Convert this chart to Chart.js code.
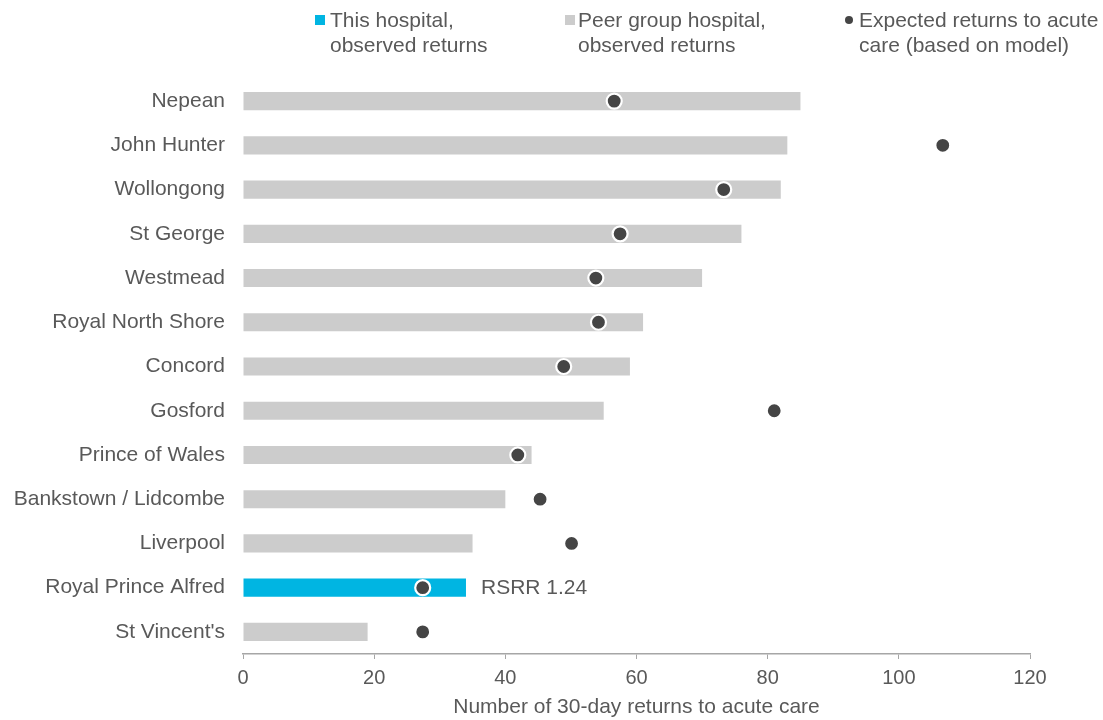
<!DOCTYPE html>
<html>
<head>
<meta charset="utf-8">
<script src="https://cdn.jsdelivr.net/npm/chart.js@4.4.1/dist/chart.umd.min.js"></script>
<style>
  html, body { margin: 0; padding: 0; background: #ffffff; }
  #wrap { position: relative; width: 1103px; height: 720px; font-family: "Liberation Sans", Arial, sans-serif; color: #595959; }
  canvas { position: absolute; left: 0; top: 0; }
  .lg { position: absolute; font-size: 21px; line-height: 25px; color: #595959; white-space: nowrap; }
  .sq { position: absolute; width: 10px; height: 10px; }
  .dot { position: absolute; width: 8px; height: 8px; border-radius: 50%; background: #454545; }
</style>
</head>
<body>
<div id="wrap">
  <canvas id="c" width="1103" height="720"></canvas>
  <div class="sq" style="left:315px; top:15px; background:#00b5e2;"></div>
  <div class="lg" style="left:330px; top:7px;">This hospital,<br>observed returns</div>
  <div class="sq" style="left:565px; top:15px; background:#cccccc;"></div>
  <div class="lg" style="left:578px; top:7px;">Peer group hospital,<br>observed returns</div>
  <div class="dot" style="left:845px; top:16px;"></div>
  <div class="lg" style="left:859px; top:7px;">Expected returns to acute<br>care (based on model)</div>
</div>
<script>
const hospitals = ["Nepean", "John Hunter", "Wollongong", "St George", "Westmead", "Royal North Shore", "Concord", "Gosford", "Prince of Wales", "Bankstown / Lidcombe", "Liverpool", "Royal Prince Alfred", "St Vincent's"];
const observedReturns = [85, 83, 82, 76, 70, 61, 59, 55, 44, 40, 35, 34, 19];
const expectedReturns = [56.6, 106.7, 73.3, 57.5, 53.8, 54.2, 48.9, 81.0, 41.9, 45.3, 50.1, 27.4, 27.4];
const thisHospital = "Royal Prince Alfred";
const rsrrLabel = "RSRR 1.24";
const xTicks = [0, 20, 40, 60, 80, 100, 120];
const xTitle = "Number of 30-day returns to acute care";

const BLUE = "#00b5e2", GREY = "#cccccc", DOT = "#454545", TEXT = "#595959";
const FONT = "'Liberation Sans', Arial, sans-serif";

const rsrrPlugin = {
  id: 'rsrr',
  afterDatasetsDraw(chart) {
    const idx = hospitals.indexOf(thisHospital);
    const meta = chart.getDatasetMeta(1);
    const bar = meta.data[idx];
    if (!bar) return;
    const ctx = chart.ctx;
    ctx.save();
    ctx.font = "21px " + FONT;
    ctx.fillStyle = TEXT;
    ctx.textAlign = 'left';
    ctx.textBaseline = 'middle';
    ctx.fillText(rsrrLabel, bar.x + 15, bar.y + 1);
    ctx.restore();
  }
};

new Chart(document.getElementById('c'), {
  data: {
    labels: hospitals,
    datasets: [
      {
        type: 'line',
        label: 'Expected returns to acute care (based on model)',
        data: expectedReturns,
        showLine: false,
        pointRadius: 7.5,
        pointHoverRadius: 7.5,
        pointBorderWidth: 2.2,
        pointBackgroundColor: DOT,
        pointBorderColor: '#ffffff',
        order: 0
      },
      {
        type: 'bar',
        label: 'Observed returns',
        data: observedReturns,
        backgroundColor: hospitals.map(h => h === thisHospital ? BLUE : GREY),
        barPercentage: 0.41,
        categoryPercentage: 1.0,
        order: 1
      }
    ]
  },
  options: {
    indexAxis: 'y',
    responsive: false,
    animation: false,
    layout: { padding: { top: 79, right: 73, left: 0, bottom: 0 } },
    plugins: { legend: { display: false }, tooltip: { enabled: false } },
    scales: {
      x: {
        type: 'linear',
        min: 0, max: 120,
        afterBuildTicks(scale) { scale.ticks = xTicks.map(v => ({ value: v })); },
        afterFit(scale) { scale.height = 66; },
        grid: { drawOnChartArea: false, drawTicks: true, tickLength: 5, color: '#a6a6a6' },
        border: { display: true, color: '#a6a6a6', width: 1.5 },
        ticks: { color: TEXT, font: { family: FONT, size: 20 }, padding: 7 },
        title: { display: true, text: xTitle, color: TEXT, font: { family: FONT, size: 21 }, padding: { top: 0, bottom: 0 } }
      },
      y: {
        type: 'category',
        afterFit(scale) { scale.width = 243; },
        grid: { display: false, drawTicks: false },
        border: { display: false },
        ticks: { color: TEXT, font: { family: FONT, size: 21 }, padding: 18, autoSkip: false }
      }
    }
  },
  plugins: [rsrrPlugin]
});
</script>
</body>
</html>
